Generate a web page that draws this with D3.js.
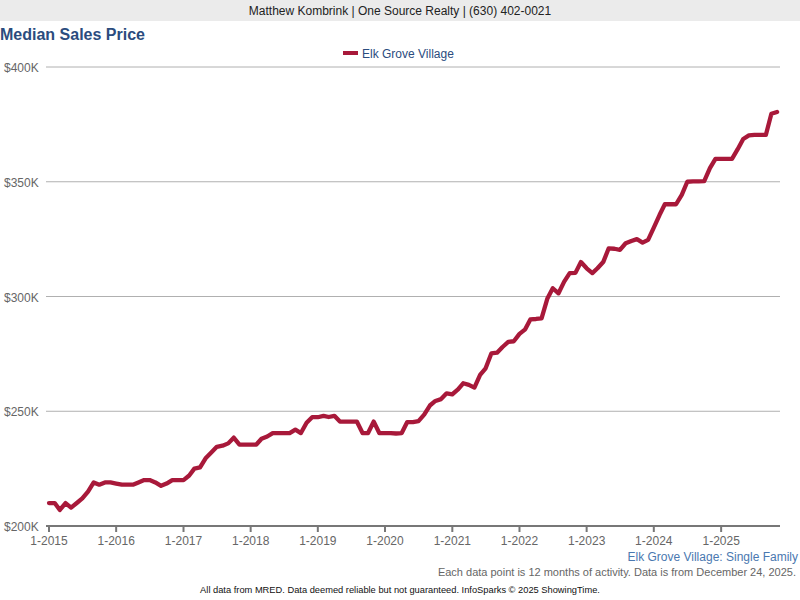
<!DOCTYPE html>
<html>
<head>
<meta charset="utf-8">
<script src="https://cdn.jsdelivr.net/npm/d3@7"></script>
<style>
  body { margin: 0; background: #fff; }
  svg { display: block; font-family: "Liberation Sans", Arial, sans-serif; }
</style>
</head>
<body>
<script>
// 12-month rolling median sales price ($K), one point per month from 1-2015
var startMonth = new Date(2015, 0, 1);
var medianPrice = [
  210, 210, 207, 210, 208, 210, 212, 215, 219, 218, 219, 219,
  218.5, 218, 218, 218, 219, 220, 220, 219, 217.5, 218.5, 220, 220,
  220, 222, 225, 225.5, 229.5, 232, 234.5, 235, 236, 238.5, 235.5, 235.5,
  235.5, 235.5, 238, 239, 240.5, 240.5, 240.5, 240.5, 242, 240.5, 245, 247.4,
  247.4, 248, 247.5, 248, 245.5, 245.5, 245.5, 245.5, 240.5, 240.5, 245.5, 240.5,
  240.5, 240.5, 240.3, 240.5, 245.3, 245.3, 245.7, 248.5, 252.5, 254.5, 255.3, 257.8,
  257.4, 259.5, 262.2, 261.5, 260.3, 265.8, 268.7, 275.2, 275.5, 278, 280.2, 280.5,
  283.7, 285.7, 290, 290.2, 290.5, 299, 303.6, 301.4, 306.5, 310.2, 310.3, 315,
  312.3, 310.2, 312.3, 315, 321, 320.8, 320.3, 323.2, 324.2, 325, 323.5, 324.7,
  330, 335.5, 340.2, 340.2, 340.2, 344.3, 350, 350.2, 350.2, 350.3, 355.9, 360,
  360, 360, 360, 364.2, 368.6, 370.2, 370.4, 370.4, 370.4, 379.6, 380.4
];
var yTicks = [200, 250, 300, 350, 400];
var xTickYears = [2015, 2016, 2017, 2018, 2019, 2020, 2021, 2022, 2023, 2024, 2025];

var width = 800, height = 600;

var data = medianPrice.map(function(v, i) {
  return { date: d3.timeMonth.offset(startMonth, i), value: v };
});

var svg = d3.select("body").append("svg")
    .attr("width", width)
    .attr("height", height);

// header bar
svg.append("rect").attr("x", 0).attr("y", 0).attr("width", width).attr("height", 21)
    .attr("fill", "#ebebeb");
svg.append("text").attr("x", 400).attr("y", 15).attr("text-anchor", "middle")
    .attr("font-size", 12).attr("fill", "#222")
    .text("Matthew Kombrink | One Source Realty | (630) 402-0021");

// title
svg.append("text").attr("x", 0).attr("y", 40)
    .attr("font-size", 16).attr("font-weight", "bold").attr("fill", "#2b4c7e")
    .text("Median Sales Price");

// legend
svg.append("rect").attr("x", 343).attr("y", 51).attr("width", 15).attr("height", 4)
    .attr("fill", "#a8193a");
svg.append("text").attr("x", 362).attr("y", 58)
    .attr("font-size", 12).attr("fill", "#2b4c7e")
    .text("Elk Grove Village");

var x = d3.scaleTime()
    .domain([startMonth, new Date(2025, 11, 1)])
    .range([49, 782.6]);

var y = d3.scaleLinear()
    .domain([200, 400])
    .range([526, 67]);

var left = 46, right = 780;

// gridlines
svg.append("g").selectAll("line")
    .data(yTicks.slice(1))
    .enter().append("line")
    .attr("x1", left).attr("x2", right)
    .attr("y1", function(d) { return y(d); })
    .attr("y2", function(d) { return y(d); })
    .attr("stroke", "#b0b0b0").attr("stroke-width", 1);

// y labels
svg.append("g").selectAll("text")
    .data(yTicks)
    .enter().append("text")
    .attr("x", 4)
    .attr("y", function(d) { return y(d) + 5; })
    .attr("font-size", 12).attr("fill", "#666")
    .text(function(d) { return "$" + d + "K"; });

// x axis
var xAxis = svg.append("g").attr("transform", "translate(0,526)");
xAxis.append("line").attr("x1", left).attr("x2", right)
    .attr("stroke", "#777").attr("stroke-width", 2);
var ticks = xAxis.selectAll("g.tick")
    .data(xTickYears.map(function(yr) { return new Date(yr, 0, 1); }))
    .enter().append("g").attr("class", "tick")
    .attr("transform", function(d) { return "translate(" + x(d) + ",0)"; });
ticks.append("line").attr("y1", 0).attr("y2", 6)
    .attr("stroke", "#777").attr("stroke-width", 2);
ticks.append("text").attr("y", 19).attr("text-anchor", "middle")
    .attr("font-size", 12).attr("fill", "#666")
    .text(d3.timeFormat("%-m-%Y"));

// series line
var line = d3.line()
    .x(function(d) { return x(d.date); })
    .y(function(d) { return y(d.value); });

svg.append("path")
    .datum(data)
    .attr("d", line)
    .attr("fill", "none")
    .attr("stroke", "#a8193a")
    .attr("stroke-width", 4.3)
    .attr("stroke-linejoin", "round")
    .attr("stroke-linecap", "round");

// footer notes
svg.append("text").attr("x", 798).attr("y", 561).attr("text-anchor", "end")
    .attr("font-size", 12).attr("fill", "#4a78b0")
    .text("Elk Grove Village: Single Family");
svg.append("text").attr("x", 796).attr("y", 576).attr("text-anchor", "end")
    .attr("font-size", 11).attr("fill", "#666")
    .text("Each data point is 12 months of activity. Data is from December 24, 2025.");
svg.append("text").attr("x", 400).attr("y", 593).attr("text-anchor", "middle")
    .attr("font-size", 9.3).attr("fill", "#111")
    .text("All data from MRED. Data deemed reliable but not guaranteed. InfoSparks \u00a9 2025 ShowingTime.");
</script>
</body>
</html>
